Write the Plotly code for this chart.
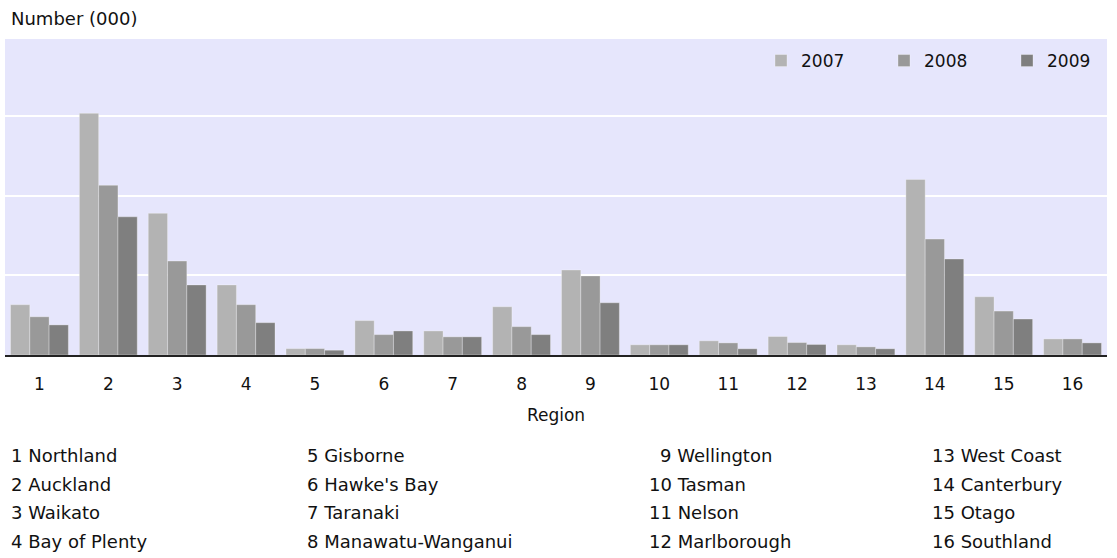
import plotly.graph_objects as go

regions = [str(i) for i in range(1, 17)]
region_names = ["Northland", "Auckland", "Waikato", "Bay of Plenty", "Gisborne", "Hawke's Bay",
                "Taranaki", "Manawatu-Wanganui", "Wellington", "Tasman", "Nelson", "Marlborough",
                "West Coast", "Canterbury", "Otago", "Southland"]
years = ["2007", "2008", "2009"]
v2007 = [31.6, 151.8, 89.0, 44.0, 4.0, 21.6, 15.1, 30.3, 53.4, 6.4, 8.9, 11.6, 6.4, 110.3, 36.6, 10.1]
v2008 = [24.0, 106.6, 59.0, 31.6, 4.0, 12.8, 11.4, 17.8, 49.7, 6.4, 7.6, 7.8, 5.1, 72.8, 27.6, 10.1]
v2009 = [18.9, 86.8, 44.0, 20.3, 3.0, 15.1, 11.4, 12.8, 32.8, 6.4, 3.9, 6.6, 3.9, 60.3, 22.6, 7.6]
colors = ["#B3B3B3", "#999999", "#7F7F7F"]

FONT = "DejaVu Sans"
W, H = 1117, 558
ML, MR, MT, MB = 5, 10, 39, 203

fig = go.Figure()
for name, vals, col in zip(years, [v2007, v2008, v2009], colors):
    fig.add_trace(go.Bar(x=regions, y=vals, name=name,
                         marker=dict(color=col, line=dict(color="rgba(255,255,255,0.3)", width=1))))

plot_h = H - MT - MB
plot_w = W - ML - MR

def px_to_paper_y(Y):
    return (H - MB - Y) / plot_h

def px_to_paper_x(X):
    return (X - ML) / plot_w

annotations = [dict(text="Number (000)", xref="paper", yref="paper", x=px_to_paper_x(9), y=px_to_paper_y(18),
                    xanchor="left", yanchor="middle", showarrow=False,
                    font=dict(family=FONT, size=18, color="#111"))]

col_x = [9, 305, 647, 930]
row_y = [455.5, 484, 512.5, 541]
for i, nm in enumerate(region_names):
    c, r = divmod(i, 4)
    x = col_x[c]
    if i == 8:
        x = 658
    annotations.append(dict(text=f"{i+1} {nm}", xref="paper", yref="paper", x=px_to_paper_x(x),
                            y=px_to_paper_y(row_y[r]), xanchor="left", yanchor="middle", showarrow=False,
                            font=dict(family=FONT, size=18, color="#111")))

fig.update_layout(
    width=W, height=H,
    margin=dict(l=ML, r=MR, t=MT, b=MB, autoexpand=False),
    paper_bgcolor="white", plot_bgcolor="#E6E6FC",
    barmode="group", bargap=0.16, bargroupgap=0,
    font=dict(family=FONT, size=17, color="#111"),
    showlegend=True,
    legend=dict(orientation="h", x=px_to_paper_x(761), xanchor="left", y=px_to_paper_y(61), yanchor="middle",
                bgcolor="rgba(0,0,0,0)", font=dict(family=FONT, size=17, color="#111"),
                entrywidth=78, entrywidthmode="pixels", traceorder="normal"),
    annotations=annotations,
    xaxis=dict(type="category", range=[-0.5, 15.5], showgrid=False, showline=True, linecolor="#222", linewidth=2,
               ticks="outside", ticklen=13, tickcolor="rgba(0,0,0,0)", tickfont=dict(family=FONT, size=17),
               title=dict(text="Region", font=dict(family=FONT, size=17), standoff=16), fixedrange=True),
    yaxis=dict(range=[0, 198.5], tickvals=[0, 50, 100, 150], showticklabels=False, showgrid=True,
               gridcolor="white", gridwidth=2, zeroline=False, ticks="", fixedrange=True),
)

fig.write_html("out.html", config={"displayModeBar": False},
               post_script="document.body.style.margin='0';")
